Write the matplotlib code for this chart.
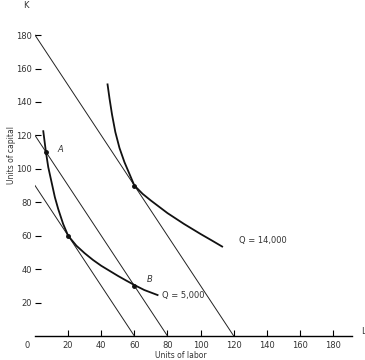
import matplotlib
matplotlib.use('Agg')
import matplotlib.pyplot as plt

# isocost lines (L intercept, K intercept)
cost_lines = [(120, 180), (80, 120), (60, 90)]

# isoquants
q5_L = [5.0, 6.6, 8, 10, 12, 14, 17, 20, 25, 30, 35, 40, 45, 50, 55, 60, 66, 74]
q5_K = [122.5, 110, 101, 92, 83, 76, 67, 60, 54, 49.5, 45.5, 42, 39, 36, 33.2, 30.5, 27.5, 24.5]
q14_L = [43.8, 45, 46.5, 48.5, 51, 54, 57, 60, 65, 70, 80, 90, 100, 107, 113]
q14_K = [150.5, 142, 132.5, 122, 112.5, 104, 97, 90, 85, 81, 73.5, 67, 61, 57, 53.5]

# marked points
pts_L = [6.67, 20, 60, 60]
pts_K = [110, 60, 30, 90]

ticks = [20, 40, 60, 80, 100, 120, 140, 160, 180]

txt = '#333333'
fig = plt.figure(figsize=(3.65, 3.6), dpi=100)
ax = fig.add_axes([35 / 365, 24 / 360, 317 / 365, 321 / 360])

for l0, k0 in cost_lines:
    ax.plot([0, l0], [k0, 0], color='#222222', lw=0.7)

ax.plot(q5_L, q5_K, color='#111111', lw=1.3)
ax.plot(q14_L, q14_K, color='#111111', lw=1.3)
ax.plot(pts_L, pts_K, 'o', color='#111111', ms=2.5)

ax.text(13.3, 111.8, 'A', fontsize=6, style='italic', color=txt, va='center')
ax.text(67.5, 33.5, 'B', fontsize=6, style='italic', color=txt, va='center')
ax.text(76.7, 24.5, 'Q = 5,000', fontsize=6, color=txt, va='center')
ax.text(123.2, 57.4, 'Q = 14,000', fontsize=6, color=txt, va='center')

ax.set_xlim(0, 191.4)
ax.set_ylim(0, 192)
ax.set_xticks(ticks)
ax.set_yticks(ticks)
ax.tick_params(direction='in', length=4, width=0.8, labelsize=6, labelcolor=txt)
ax.tick_params(axis='x', pad=3.5)
ax.tick_params(axis='y', pad=2)
for s in ['top', 'right', 'left']:
    ax.spines[s].set_visible(False)
ax.spines['bottom'].set_linewidth(1.0)

fig.text(27 / 365, 1 - 346 / 360, '0', fontsize=6, color=txt, ha='center', va='center')
fig.text(26 / 365, 1 - 6 / 360, 'K', fontsize=6, color=txt, ha='center', va='center')
fig.text(363 / 365, 1 - 332 / 360, 'L', fontsize=6, color=txt, ha='center', va='center')
fig.text(12 / 365, 1 - 155 / 360, 'Units of capital', fontsize=5.5, color=txt,
         rotation=90, ha='center', va='center')
fig.text(181 / 365, 1 - 355.5 / 360, 'Units of labor', fontsize=5.5, color=txt,
         ha='center', va='center')

fig.savefig('out.png', dpi=100)
